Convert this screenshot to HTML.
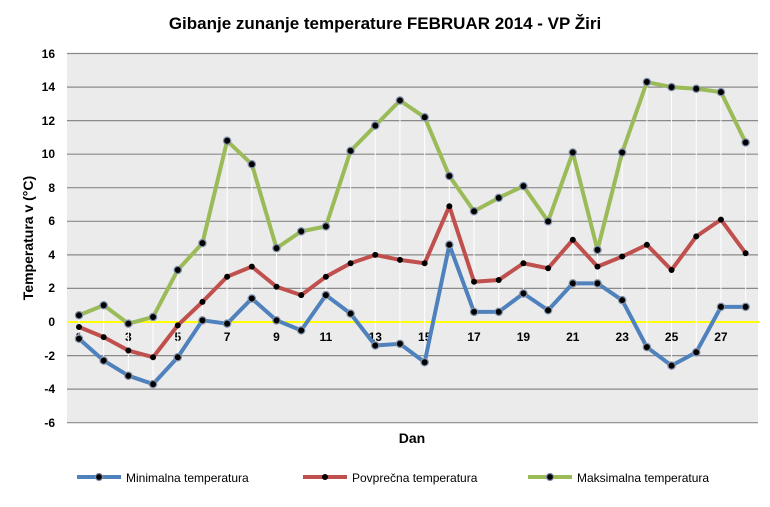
<!DOCTYPE html><html><head><meta charset="utf-8"><style>body{margin:0;background:#fff}svg{display:block;font-family:"Liberation Sans",sans-serif}</style></head><body>
<svg width="770" height="507" viewBox="0 0 770 507">
<text x="385" y="29" text-anchor="middle" font-size="17" font-weight="bold">Gibanje zunanje temperature  FEBRUAR 2014 - VP Žiri</text>
<rect x="67" y="53.5" width="691" height="369.2" fill="#ebebeb"/>
<g stroke="#8a8a8a" stroke-width="1.2">
<line x1="67" x2="758" y1="53.5" y2="53.5"/><line x1="67" x2="758" y1="87.1" y2="87.1"/><line x1="67" x2="758" y1="120.6" y2="120.6"/><line x1="67" x2="758" y1="154.2" y2="154.2"/><line x1="67" x2="758" y1="187.7" y2="187.7"/><line x1="67" x2="758" y1="221.3" y2="221.3"/><line x1="67" x2="758" y1="254.9" y2="254.9"/><line x1="67" x2="758" y1="288.4" y2="288.4"/><line x1="67" x2="758" y1="355.6" y2="355.6"/><line x1="67" x2="758" y1="389.1" y2="389.1"/><line x1="67" x2="758" y1="422.7" y2="422.7"/>
</g>
<line x1="67" x2="760" y1="322" y2="322" stroke="#ffff00" stroke-width="2"/>
<g font-size="12" font-weight="bold" text-anchor="end">
<text x="55" y="58">16</text><text x="55" y="91">14</text><text x="55" y="125">12</text><text x="55" y="158">10</text><text x="55" y="192">8</text><text x="55" y="225">6</text><text x="55" y="259">4</text><text x="55" y="292">2</text><text x="55" y="326">0</text><text x="55" y="360">-2</text><text x="55" y="393">-4</text><text x="55" y="427">-6</text>
</g>
<g font-size="12" font-weight="bold" text-anchor="middle">
<text x="79" y="341">1</text><text x="128.4" y="341">3</text><text x="177.8" y="341">5</text><text x="227.1" y="341">7</text><text x="276.5" y="341">9</text><text x="325.9" y="341">11</text><text x="375.3" y="341">13</text><text x="424.7" y="341">15</text><text x="474" y="341">17</text><text x="523.4" y="341">19</text><text x="572.8" y="341">21</text><text x="622.2" y="341">23</text><text x="671.6" y="341">25</text><text x="720.9" y="341">27</text>
</g>
<text transform="translate(33,238) rotate(-90)" text-anchor="middle" font-size="14" font-weight="bold">Temperatura v (°C)</text>
<text x="412" y="443" text-anchor="middle" font-size="14" font-weight="bold">Dan</text>
<g transform="translate(79,322) scale(24.69,-16.78)" fill="none" stroke-linejoin="round">
<path vector-effect="non-scaling-stroke" stroke="#fff" stroke-width="1" d="M0 -1V0.4M1 -2.3V1M2 -3.2V-0.1M3 -3.7V0.3M4 -2.1V3.1M5 0.1V4.7M6 -0.1V10.8M7 1.4V9.4M8 0.1V4.4M9 -0.5V5.4M10 1.6V5.7M11 0.5V10.2M12 -1.4V11.7M13 -1.3V13.2M14 -2.4V12.2M15 4.6V8.7M16 0.6V6.6M17 0.6V7.4M18 1.7V8.1M19 0.7V6M20 2.3V10.1M21 2.3V4.3M22 1.3V10.1M23 -1.5V14.3M24 -2.6V14M25 -1.8V13.9M26 0.9V13.7M27 0.9V10.7"/>
<polyline vector-effect="non-scaling-stroke" stroke="#4f81bd" stroke-width="4" points="0,-1 1,-2.3 2,-3.2 3,-3.7 4,-2.1 5,0.1 6,-0.1 7,1.4 8,0.1 9,-0.5 10,1.6 11,0.5 12,-1.4 13,-1.3 14,-2.4 15,4.6 16,0.6 17,0.6 18,1.7 19,0.7 20,2.3 21,2.3 22,1.3 23,-1.5 24,-2.6 25,-1.8 26,0.9 27,0.9"/>
<polyline vector-effect="non-scaling-stroke" stroke="#c0504d" stroke-width="4" points="0,-0.3 1,-0.9 2,-1.7 3,-2.1 4,-0.2 5,1.2 6,2.7 7,3.3 8,2.1 9,1.6 10,2.7 11,3.5 12,4 13,3.7 14,3.5 15,6.9 16,2.4 17,2.5 18,3.5 19,3.2 20,4.9 21,3.3 22,3.9 23,4.6 24,3.1 25,5.1 26,6.1 27,4.1"/>
<polyline vector-effect="non-scaling-stroke" stroke="#9bbb59" stroke-width="4" points="0,0.4 1,1 2,-0.1 3,0.3 4,3.1 5,4.7 6,10.8 7,9.4 8,4.4 9,5.4 10,5.7 11,10.2 12,11.7 13,13.2 14,12.2 15,8.7 16,6.6 17,7.4 18,8.1 19,6 20,10.1 21,4.3 22,10.1 23,14.3 24,14 25,13.9 26,13.7 27,10.7"/>
<g stroke-linecap="round">
<path vector-effect="non-scaling-stroke" stroke="#7f8fa8" stroke-width="8.5" d="M0 -1h0M1 -2.3h0M2 -3.2h0M3 -3.7h0M4 -2.1h0M5 0.1h0M6 -0.1h0M7 1.4h0M8 0.1h0M9 -0.5h0M10 1.6h0M11 0.5h0M12 -1.4h0M13 -1.3h0M14 -2.4h0M15 4.6h0M16 0.6h0M17 0.6h0M18 1.7h0M19 0.7h0M20 2.3h0M21 2.3h0M22 1.3h0M23 -1.5h0M24 -2.6h0M25 -1.8h0M26 0.9h0M27 0.9h0M0 0.4h0M1 1h0M2 -0.1h0M3 0.3h0M4 3.1h0M5 4.7h0M6 10.8h0M7 9.4h0M8 4.4h0M9 5.4h0M10 5.7h0M11 10.2h0M12 11.7h0M13 13.2h0M14 12.2h0M15 8.7h0M16 6.6h0M17 7.4h0M18 8.1h0M19 6h0M20 10.1h0M21 4.3h0M22 10.1h0M23 14.3h0M24 14h0M25 13.9h0M26 13.7h0M27 10.7h0"/>
<path vector-effect="non-scaling-stroke" stroke="#000" stroke-width="6" d="M0 -1h0M1 -2.3h0M2 -3.2h0M3 -3.7h0M4 -2.1h0M5 0.1h0M6 -0.1h0M7 1.4h0M8 0.1h0M9 -0.5h0M10 1.6h0M11 0.5h0M12 -1.4h0M13 -1.3h0M14 -2.4h0M15 4.6h0M16 0.6h0M17 0.6h0M18 1.7h0M19 0.7h0M20 2.3h0M21 2.3h0M22 1.3h0M23 -1.5h0M24 -2.6h0M25 -1.8h0M26 0.9h0M27 0.9h0M0 0.4h0M1 1h0M2 -0.1h0M3 0.3h0M4 3.1h0M5 4.7h0M6 10.8h0M7 9.4h0M8 4.4h0M9 5.4h0M10 5.7h0M11 10.2h0M12 11.7h0M13 13.2h0M14 12.2h0M15 8.7h0M16 6.6h0M17 7.4h0M18 8.1h0M19 6h0M20 10.1h0M21 4.3h0M22 10.1h0M23 14.3h0M24 14h0M25 13.9h0M26 13.7h0M27 10.7h0"/>
<path vector-effect="non-scaling-stroke" stroke="#000" stroke-width="6" d="M0 -0.3h0M1 -0.9h0M2 -1.7h0M3 -2.1h0M4 -0.2h0M5 1.2h0M6 2.7h0M7 3.3h0M8 2.1h0M9 1.6h0M10 2.7h0M11 3.5h0M12 4h0M13 3.7h0M14 3.5h0M15 6.9h0M16 2.4h0M17 2.5h0M18 3.5h0M19 3.2h0M20 4.9h0M21 3.3h0M22 3.9h0M23 4.6h0M24 3.1h0M25 5.1h0M26 6.1h0M27 4.1h0"/>
</g>
</g>
<g font-size="12">
<line x1="77" x2="121" y1="477" y2="477" stroke="#4f81bd" stroke-width="4"/><circle cx="99" cy="477" r="3.5" fill="#000" stroke="#7f8fa8" stroke-width="1.2"/><text x="126" y="482">Minimalna temperatura</text>
<line x1="303" x2="347" y1="477" y2="477" stroke="#c0504d" stroke-width="4"/><circle cx="325" cy="477" r="3" fill="#000"/><text x="352" y="482">Povprečna temperatura</text>
<line x1="528" x2="572" y1="477" y2="477" stroke="#9bbb59" stroke-width="4"/><circle cx="550" cy="477" r="3.5" fill="#000" stroke="#7f8fa8" stroke-width="1.2"/><text x="577" y="482">Maksimalna  temperatura</text>
</g>
</svg>
</body></html>
